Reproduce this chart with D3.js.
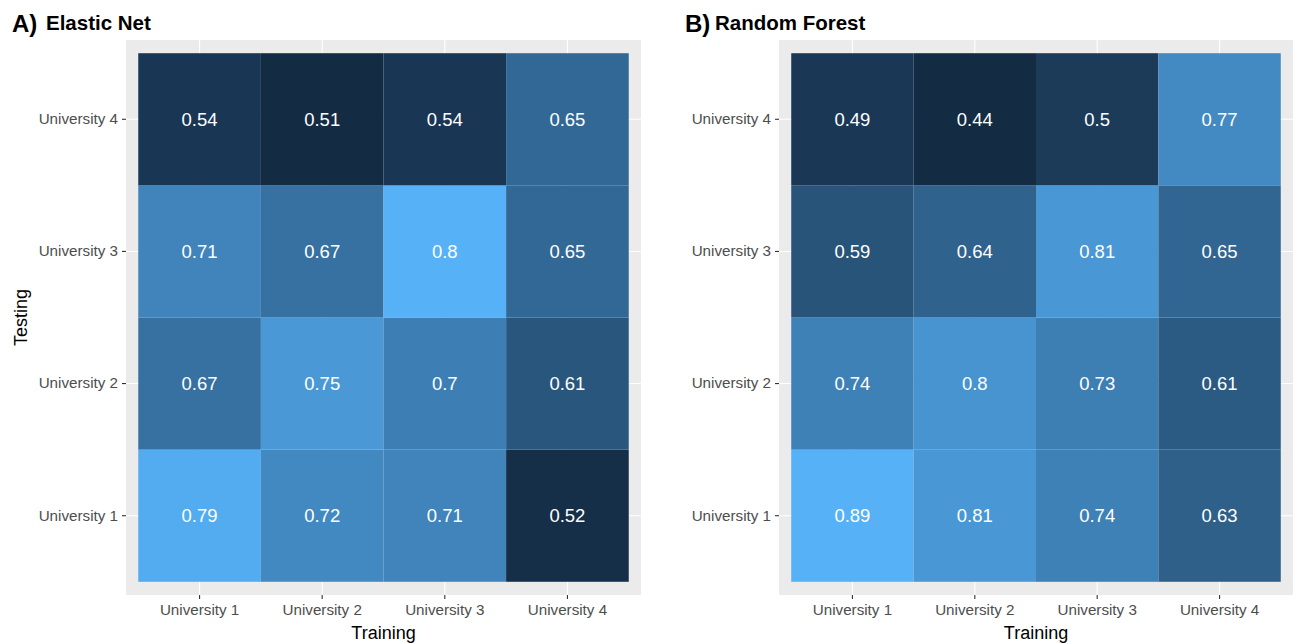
<!DOCTYPE html>
<html>
<head>
<meta charset="utf-8">
<script src="https://cdn.jsdelivr.net/npm/d3@7"></script>
<style>
  html, body { margin: 0; padding: 0; background: #fff; }
  svg { display: block; font-family: "Liberation Sans", Arial, sans-serif; }
</style>
</head>
<body>
<svg id="chart" width="1298" height="643"></svg>
<script>
// Universities used for training (columns) and testing (rows)
const trainingLabels = ["University 1", "University 2", "University 3", "University 4"];
const testingLabels = ["University 1", "University 2", "University 3", "University 4"];

// Elastic Net accuracy: rows = testing university, columns = training university
const elasticNetValues = [
  [0.79, 0.72, 0.71, 0.52], // tested on University 1
  [0.67, 0.75, 0.70, 0.61], // tested on University 2
  [0.71, 0.67, 0.80, 0.65], // tested on University 3
  [0.54, 0.51, 0.54, 0.65]  // tested on University 4
];

// Random Forest accuracy
const randomForestValues = [
  [0.89, 0.81, 0.74, 0.63],
  [0.74, 0.80, 0.73, 0.61],
  [0.59, 0.64, 0.81, 0.65],
  [0.49, 0.44, 0.50, 0.77]
];

const panels = [
  { tag: "A)", name: "Elastic Net", values: elasticNetValues,
    left: 126, right: 641, tagX: 12, nameX: 46, yTitle: true },
  { tag: "B)", name: "Random Forest", values: randomForestValues,
    left: 779, right: 1293, tagX: 685, nameX: 715, yTitle: false }
];

const svg = d3.select("#chart");
const panelTop = 40, panelBottom = 595;
const tickFont = 15.2;

panels.forEach(p => {
  const g = svg.append("g");

  // Discrete scales with ggplot-style 0.6 unit expansion on each side
  const x = d3.scaleBand().domain(trainingLabels)
    .range([p.left, p.right]).paddingOuter(0.1).paddingInner(0);
  const y = d3.scaleBand().domain(testingLabels.slice().reverse())
    .range([panelTop, panelBottom]).paddingOuter(0.1).paddingInner(0);

  const flat = [];
  p.values.forEach((row, i) => row.forEach((v, j) => {
    flat.push({ test: testingLabels[i], train: trainingLabels[j], value: v });
  }));
  const ext = d3.extent(flat, d => d.value);
  const color = d3.scaleLinear().domain(ext)
    .range(["#132B43", "#56B1F7"]).interpolate(d3.interpolateLab);

  // panel background
  g.append("rect").attr("x", p.left).attr("y", panelTop)
    .attr("width", p.right - p.left).attr("height", panelBottom - panelTop)
    .attr("fill", "#EBEBEB");

  // major grid lines
  g.selectAll(".gx").data(trainingLabels).join("line")
    .attr("x1", d => x(d) + x.bandwidth() / 2).attr("x2", d => x(d) + x.bandwidth() / 2)
    .attr("y1", panelTop).attr("y2", panelBottom)
    .attr("stroke", "#fff").attr("stroke-width", 1.1);
  g.selectAll(".gy").data(testingLabels).join("line")
    .attr("y1", d => y(d) + y.bandwidth() / 2).attr("y2", d => y(d) + y.bandwidth() / 2)
    .attr("x1", p.left).attr("x2", p.right)
    .attr("stroke", "#fff").attr("stroke-width", 1.1);

  // tiles
  g.selectAll(".tile").data(flat).join("rect")
    .attr("x", d => x(d.train)).attr("y", d => y(d.test))
    .attr("width", x.bandwidth()).attr("height", y.bandwidth())
    .attr("fill", d => color(d.value));

  // value labels
  g.selectAll(".val").data(flat).join("text")
    .attr("x", d => x(d.train) + x.bandwidth() / 2)
    .attr("y", d => y(d.test) + y.bandwidth() / 2)
    .attr("dy", "0.36em")
    .attr("text-anchor", "middle")
    .attr("fill", "#fff").attr("font-size", 18.5)
    .text(d => String(d.value));

  // x axis
  const xAxis = g.append("g").attr("transform", `translate(0,${panelBottom})`)
    .call(d3.axisBottom(x).tickSize(4).tickPadding(5));
  xAxis.select(".domain").remove();
  xAxis.selectAll(".tick line").attr("stroke", "#333").attr("stroke-width", 1.1);
  xAxis.selectAll(".tick text").attr("fill", "#4D4D4D").attr("font-size", tickFont)
    .attr("font-family", "Liberation Sans, Arial, sans-serif");

  // y axis
  const yAxis = g.append("g").attr("transform", `translate(${p.left},0)`)
    .call(d3.axisLeft(y).tickSize(4).tickPadding(4));
  yAxis.select(".domain").remove();
  yAxis.selectAll(".tick line").attr("stroke", "#333").attr("stroke-width", 1.1);
  yAxis.selectAll(".tick text").attr("fill", "#4D4D4D").attr("font-size", tickFont)
    .attr("font-family", "Liberation Sans, Arial, sans-serif");

  // axis titles
  g.append("text").attr("x", (p.left + p.right) / 2).attr("y", 639)
    .attr("text-anchor", "middle").attr("font-size", 18).attr("fill", "#000")
    .text("Training");
  if (p.yTitle) {
    g.append("text")
      .attr("transform", `translate(27,${(panelTop + panelBottom) / 2}) rotate(-90)`)
      .attr("text-anchor", "middle").attr("font-size", 18).attr("fill", "#000")
      .text("Testing");
  }

  // panel titles
  g.append("text").attr("x", p.tagX).attr("y", 32)
    .attr("font-size", 24).attr("font-weight", "bold").attr("fill", "#000")
    .text(p.tag);
  g.append("text").attr("x", p.nameX).attr("y", 30)
    .attr("font-size", 20.5).attr("font-weight", "bold").attr("fill", "#000")
    .text(p.name);
});
</script>
</body>
</html>
